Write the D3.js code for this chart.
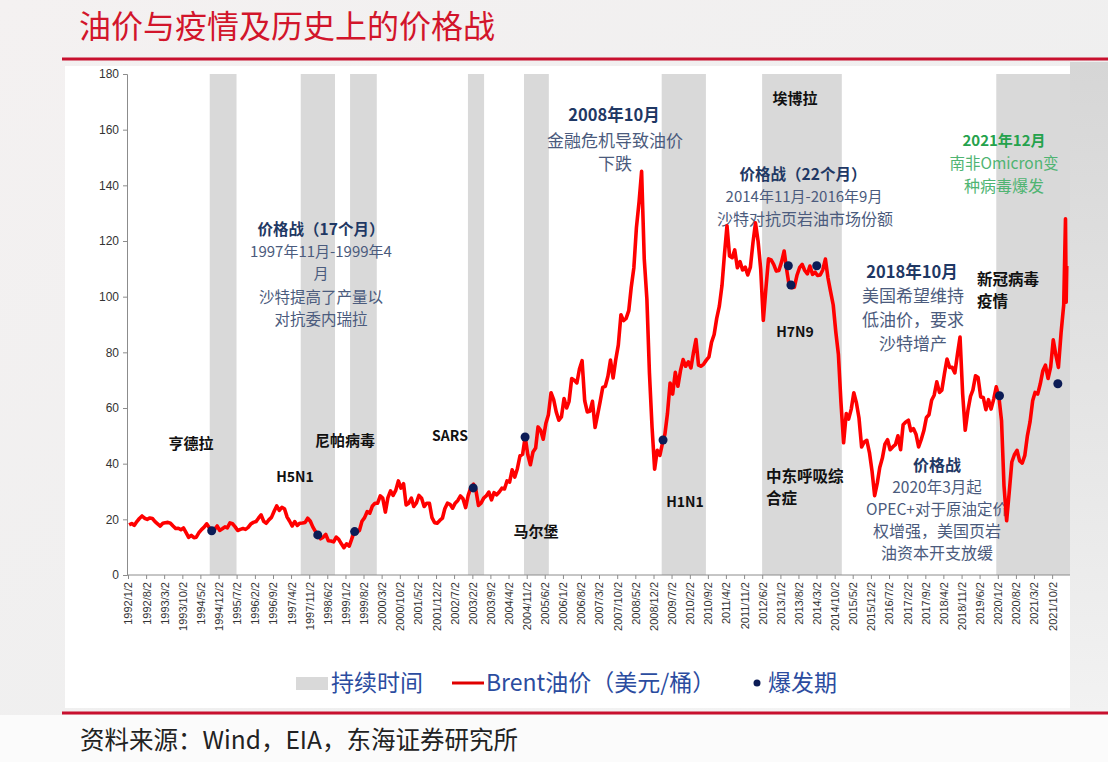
<!DOCTYPE html>
<html><head><meta charset="utf-8">
<script src="https://cdn.jsdelivr.net/npm/d3@7"></script>
<style>
body{margin:0;background:#fff;}
svg{display:block;font-family:"Noto Sans CJK SC","Noto Sans",sans-serif;}
</style></head><body>
<svg id="chart" width="1108" height="762"></svg>
<script>
// ---------------- data ----------------
const titleText = "油价与疫情及历史上的价格战";
const sourceText = "资料来源：Wind，EIA，东海证券研究所";
const firstYear = 1992; // monthly values start Jan 1992 (mid-month)
const brentMonthly = [
 18.0,18.5,17.8,19.2,20.3,21.2,20.4,20.0,20.5,20.3,19.2,18.4,
 17.6,18.6,18.8,18.9,18.6,17.6,16.7,16.8,16.3,16.9,15.2,13.5,
 14.2,13.4,13.6,15.2,16.3,17.2,18.4,17.0,16.0,16.4,17.6,16.0,
 16.6,17.3,16.9,18.7,18.4,17.3,16.0,16.4,16.7,16.4,17.1,18.3,
 18.9,19.2,20.4,21.6,19.3,18.6,19.8,20.7,22.9,24.8,23.2,24.3,
 23.8,20.8,19.4,17.6,19.2,17.8,18.6,18.7,18.9,20.4,19.3,17.2,
 15.6,14.3,13.0,13.6,14.6,12.3,12.2,11.9,13.6,12.8,11.2,9.8,
 11.2,10.4,12.8,15.6,15.4,16.0,19.3,20.6,22.8,22.2,24.8,25.8,
 25.8,28.4,27.6,22.6,27.8,30.2,28.6,30.4,33.8,31.2,32.8,25.2,
 25.8,27.6,24.6,25.9,28.6,27.6,24.6,25.8,25.8,20.6,18.8,18.6,
 19.6,20.4,23.8,25.8,25.4,24.0,25.8,26.8,28.4,27.4,24.2,28.6,
 31.4,32.6,30.6,25.0,25.8,27.6,28.4,29.8,27.0,29.6,28.8,29.8,
 31.2,30.9,33.8,33.4,37.8,35.2,38.2,42.8,43.4,49.6,43.2,39.6,
 44.2,45.6,53.2,52.0,48.8,54.4,57.6,65.5,63.0,58.6,55.6,56.8,
 63.4,60.0,62.4,70.6,70.0,69.0,74.0,77.0,62.6,58.6,58.8,62.4,
 53.0,57.8,62.2,67.4,67.8,71.4,77.2,70.8,77.4,82.6,93.5,91.4,
 92.2,95.0,103.4,110.4,124.8,134.0,145.0,113.6,99.2,72.6,53.0,38.0,
 44.8,43.0,47.0,50.6,58.0,69.0,65.0,72.8,67.8,73.4,77.4,75.0,
 76.6,74.4,79.6,84.6,75.4,75.0,75.8,77.2,78.4,83.6,86.4,92.2,
 96.6,104.0,114.8,125.5,114.6,114.0,116.8,110.4,112.6,109.6,110.6,107.8,
 110.6,119.6,126.5,119.8,110.0,91.5,102.8,113.6,113.2,111.6,109.2,109.4,
 112.4,116.4,110.0,104.0,103.2,103.4,107.6,110.4,111.6,109.4,108.2,111.0,
 108.0,108.8,107.6,107.8,109.6,113.5,106.8,101.8,97.0,87.4,79.2,62.0,
 47.5,58.0,56.0,59.6,65.5,61.8,56.4,46.0,47.8,48.4,44.0,37.4,
 28.5,33.0,38.6,42.0,47.0,48.6,45.0,46.0,46.8,50.0,45.0,54.0,
 55.0,55.6,51.8,52.6,50.6,46.0,48.6,51.8,56.6,57.6,62.8,64.6,
 69.4,65.6,66.4,72.4,77.6,74.6,74.6,72.6,79.4,85.5,65.0,52.0,
 59.0,64.2,66.4,71.6,71.0,64.0,63.8,59.4,63.0,59.6,63.2,67.6,
 64.0,55.4,32.0,19.5,29.6,40.6,43.2,44.8,41.0,40.2,43.0,50.0,
 55.0,62.6,65.6,65.0,68.6,73.4,75.4,70.6,74.8,84.5,79.0,74.6,
 87.0,97.0
];
const brentTailDates = ["2022-03-08","2022-03-16","2022-03-23"];
const brentTailValues = [128, 98, 111];

const outbreakDates = ["1994-09-12","1998-02-10","1999-04-20","2003-02-12","2004-10-14","2009-03-24","2013-04-05","2013-05-06","2014-03-05","2020-01-22","2021-12-08"];
const outbreakValues = [15.9,14.4,15.6,31.3,49.6,48.5,111.1,104.2,111.1,64.4,68.7];

const bandStarts = ["1994-08-20","1997-07-25","1999-02-25","2002-12-12","2004-10-01","2009-03-08","2012-06-01","2019-12-15"];
const bandEnds   = ["1995-07-01","1998-09-01","2000-01-05","2003-06-20","2005-07-20","2010-08-10","2014-12-25","2022-04-30"];

const yTicks = [0,20,40,60,80,100,120,140,160,180];
const xTickLabels = ["1992/1/2","1992/8/2","1993/3/2","1993/10/2","1994/5/2","1994/12/2","1995/7/2","1996/2/2","1996/9/2","1997/4/2","1997/11/2","1998/6/2","1999/1/2","1999/8/2","2000/3/2","2000/10/2","2001/5/2","2001/12/2","2002/7/2","2003/2/2","2003/9/2","2004/4/2","2004/11/2","2005/6/2","2006/1/2","2006/8/2","2007/3/2","2007/10/2","2008/5/2","2008/12/2","2009/7/2","2010/2/2","2010/9/2","2011/4/2","2011/11/2","2012/6/2","2013/1/2","2013/8/2","2014/3/2","2014/10/2","2015/5/2","2015/12/2","2016/7/2","2017/2/2","2017/9/2","2018/4/2","2018/11/2","2019/6/2","2020/1/2","2020/8/2","2021/3/2","2021/10/2"];

const legendLabels = ["持续时间","Brent油价（美元/桶）","爆发期"];

// ---------------- drawing ----------------
const svg = d3.select("#chart");
const W = 1108, H = 762;
const parse = d3.timeParse("%Y-%m-%d");
const parseTick = d3.timeParse("%Y/%-m/%-d");

// background
const defs = svg.append("defs");
const g1 = defs.append("linearGradient").attr("id","bg").attr("x1",0).attr("y1",0).attr("x2",1).attr("y2",1);
g1.append("stop").attr("offset","0%").attr("stop-color","#f4f1f1");
g1.append("stop").attr("offset","60%").attr("stop-color","#efefef");
g1.append("stop").attr("offset","100%").attr("stop-color","#f7f7f7");
const g2 = defs.append("linearGradient").attr("id","rightbg").attr("x1",0).attr("y1",0).attr("x2",0).attr("y2",1);
g2.append("stop").attr("offset","0%").attr("stop-color","#d6d6d6");
g2.append("stop").attr("offset","100%").attr("stop-color","#f2f2f2");
svg.append("rect").attr("width",W).attr("height",H).attr("fill","url(#bg)");
svg.append("rect").attr("x",1070).attr("y",62).attr("width",38).attr("height",650).attr("fill","url(#rightbg)");
svg.append("rect").attr("x",65).attr("y",66).attr("width",1005).attr("height",642).attr("fill","#ffffff");
svg.append("rect").attr("x",0).attr("y",715).attr("width",W).attr("height",47).attr("fill","#fbfbfb");

// title + rules
svg.append("text").attr("x",79).attr("y",38).attr("font-size",32).attr("fill","#d2152b").text(titleText);
svg.append("line").attr("x1",62).attr("x2",W).attr("y1",59).attr("y2",59).attr("stroke","#c8102e").attr("stroke-width",3);
svg.append("line").attr("x1",62).attr("x2",W).attr("y1",713).attr("y2",713).attr("stroke","#c8102e").attr("stroke-width",3);
svg.append("text").attr("x",80).attr("y",749).attr("font-size",24.5).attr("fill","#222").text(sourceText);

// scales
const x = d3.scaleTime().domain([parse("1992-01-02"), parse("2022-04-30")]).range([128, 1070]);
const y = d3.scaleLinear().domain([0,180]).range([575, 74]);

// bands
svg.append("g").selectAll("rect").data(bandStarts.map((s,i)=>[parse(s),parse(bandEnds[i])]))
  .join("rect")
  .attr("x",d=>x(d[0])).attr("width",d=>x(d[1])-x(d[0]))
  .attr("y",y(180)).attr("height",y(0)-y(180))
  .attr("fill","#d9d9d9");

// axes
const yAxis = svg.append("g").attr("transform","translate(127,0)")
  .call(d3.axisLeft(y).tickValues(yTicks).tickSize(4).tickPadding(4));
yAxis.selectAll("text").attr("font-family","Liberation Sans, Arial, sans-serif").attr("font-size",12).attr("fill","#333");
yAxis.selectAll("line,path").attr("stroke","#8c8c8c");

const xAxis = svg.append("g").attr("transform","translate(0,575)")
  .call(d3.axisBottom(x).tickValues(xTickLabels.map(s=>parseTick(s))).tickSize(4).tickFormat((d,i)=>xTickLabels[i]));
xAxis.select(".domain").attr("d","M127,0H1070");
xAxis.selectAll("line,path").attr("stroke","#8c8c8c");
xAxis.selectAll("text").attr("font-family","Liberation Sans, Arial, sans-serif").attr("font-size",11).attr("fill","#333")
  .attr("transform","rotate(-90)").attr("x",-7).attr("y",0).attr("dy","0.36em").style("text-anchor","end");

// annotations (drawn beneath the line)
const navy = "#1f3864", slate = "#4b5b7d", black = "#111";
function lbl(txt, cx, cy, size, weight, color, anchor){
  svg.append("text").attr("x",cx).attr("y",cy).attr("dy","0.36em")
    .attr("text-anchor",anchor||"middle").attr("font-size",size).attr("font-weight",weight)
    .attr("fill",color).text(txt);
}
lbl("亨德拉",191,444,15,"bold",black);
lbl("H5N1",295,477,14,"bold",black);
lbl("尼帕病毒",345,441,15,"bold",black);
lbl("SARS",450,436,14,"bold",black);
lbl("马尔堡",536,532,15,"bold",black);
lbl("H1N1",685,502,14,"bold",black);
lbl("埃博拉",795,99,15,"bold",black);
lbl("H7N9",795,332,14,"bold",black);
lbl("中东呼吸综",766,476,15.5,"bold",black,"start");
lbl("合症",766,498,15.5,"bold",black,"start");
lbl("新冠病毒",977,279,15.5,"bold",black,"start");
lbl("疫情",977,301,15.5,"bold",black,"start");

lbl("价格战（17个月）",321,229,15.5,"bold",navy);
lbl("1997年11月-1999年4",321,252,15,"normal",slate);
lbl("月",321,274,15,"normal",slate);
lbl("沙特提高了产量以",321,297,15.5,"normal",slate);
lbl("对抗委内瑞拉",321,319,15.5,"normal",slate);

lbl("2008年10月",614,115,16.5,"bold",navy);
lbl("金融危机导致油价",615,141,17,"normal",slate);
lbl("下跌",615,164,17,"normal",slate);

lbl("价格战（22个月）",803,174,15.5,"bold",navy);
lbl("2014年11月-2016年9月",804,197,15,"normal",slate);
lbl("沙特对抗页岩油市场份额",805,219,16,"normal",slate);

lbl("2018年10月",912,272,16.5,"bold",navy);
lbl("美国希望维持",913,296,17,"normal",slate);
lbl("低油价，要求",913,320,17,"normal",slate);
lbl("沙特增产",913,344,17,"normal",slate);

lbl("2021年12月",1004,141,15,"bold","#25a24c");
lbl("南非Omicron变",1004,163,15.5,"normal","#4fb472");
lbl("种病毒爆发",1004,186,16,"normal","#4fb472");

lbl("价格战",937,465,16,"bold",navy);
lbl("2020年3月起",937,487,15.5,"normal",slate);
lbl("OPEC+对于原油定价",937,509,15.5,"normal",slate);
lbl("权增强，美国页岩",937,531,16,"normal",slate);
lbl("油资本开支放缓",937,553,16,"normal",slate);

// price line
const series = brentMonthly.map((v,i)=>({d:new Date(firstYear, i, 15), v}))
  .concat(brentTailDates.map((s,i)=>({d:parse(s), v:brentTailValues[i]})));
svg.append("path").datum(series)
  .attr("fill","none").attr("stroke","#ff0000").attr("stroke-width",3.6)
  .attr("stroke-linejoin","round")
  .attr("d", d3.line().x(d=>x(d.d)).y(d=>y(d.v)));

// outbreak dots
svg.append("g").selectAll("circle").data(outbreakDates.map((s,i)=>({d:parse(s),v:outbreakValues[i]})))
  .join("circle").attr("cx",d=>x(d.d)).attr("cy",d=>y(d.v)).attr("r",4.5).attr("fill","#0c1c56");

// legend
const lg = svg.append("g").attr("font-size",23).attr("fill","#2b4c9f");
lg.append("rect").attr("x",296).attr("y",677).attr("width",32).attr("height",13).attr("fill","#d9d9d9");
lg.append("text").attr("x",331).attr("y",683).attr("dy","0.36em").text(legendLabels[0]);
lg.append("line").attr("x1",452).attr("x2",484).attr("y1",683).attr("y2",683).attr("stroke","#e00000").attr("stroke-width",3);
lg.append("text").attr("x",486).attr("y",683).attr("dy","0.36em").text(legendLabels[1]);
lg.append("circle").attr("cx",757).attr("cy",683).attr("r",3.5).attr("fill","#0c1c56");
lg.append("text").attr("x",768).attr("y",683).attr("dy","0.36em").text(legendLabels[2]);
</script>
</body></html>
